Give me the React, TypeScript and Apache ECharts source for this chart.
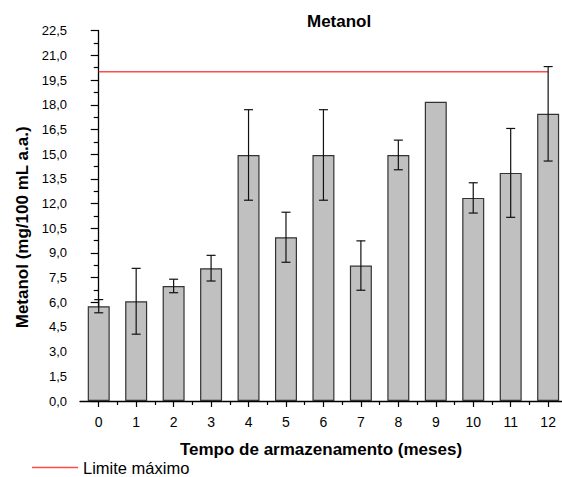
import React, { useEffect, useRef } from "react";
import * as echarts from "echarts";

const months = [0, 1, 2, 3, 4, 5, 6, 7, 8, 9, 10, 11, 12];
const means = [5.76, 6.06, 6.99, 8.07, 14.95, 9.95, 14.95, 8.23, 14.95, 18.18, 12.34, 13.86, 17.45];
const errors = [0.4, 2.0, 0.41, 0.78, 2.75, 1.52, 2.75, 1.5, 0.9, 0, 0.92, 2.7, 2.87];
const limitValue = 20;
const minorXTicks = [0.5, 1.5, 2.5, 3.5, 4.5, 5.5, 6.5, 7.5, 8.5, 9.5, 10.5, 11.5];

const FONT = "'Liberation Sans', Arial, sans-serif";

export default function App() {
  const ref = useRef<HTMLDivElement>(null);
  useEffect(() => {
    if (!ref.current) return;
    const chart = echarts.init(ref.current, null, { renderer: "svg" });
    const axisMin = -0.5;
    const axisMax = 12.37;
    chart.setOption({
      animation: false,
      backgroundColor: "#fff",
      textStyle: { fontFamily: FONT },
      title: {
        text: "Metanol",
        left: 307,
        top: 13,
        padding: 0,
        textStyle: { fontFamily: FONT, fontSize: 17, fontWeight: "bold", color: "#000" },
      },
      legend: {
        data: ["Limite máximo"],
        left: 32,
        top: 459,
        padding: 0,
        icon: "rect",
        itemWidth: 46,
        itemHeight: 1.5,
        itemGap: 5,
        textStyle: { fontFamily: FONT, fontSize: 16.5, lineHeight: 16, color: "#000" },
      },
      grid: { left: 80, right: 0, top: 30.7, bottom: 76 },
      xAxis: [
        {
          type: "value",
          min: axisMin,
          max: axisMax,
          name: "Tempo de armazenamento (meses)",
          nameLocation: "middle",
          nameGap: 40,
          nameTextStyle: { fontFamily: FONT, fontSize: 17, fontWeight: "bold", color: "#000" },
          axisLine: { show: true, onZero: false, lineStyle: { color: "#000", width: 1.3 } },
          axisTick: { show: true, customValues: months, length: 6, inside: false, lineStyle: { color: "#000", width: 1.2 } },
          axisLabel: { show: true, customValues: months, fontFamily: FONT, fontSize: 14, color: "#000", margin: 14 },
          splitLine: { show: false },
        },
        {
          type: "value",
          min: axisMin,
          max: axisMax,
          position: "bottom",
          axisLine: { show: false },
          axisTick: { show: true, customValues: minorXTicks, length: 4, lineStyle: { color: "#000", width: 1.2 } },
          axisLabel: { show: false },
          splitLine: { show: false },
        },
      ],
      yAxis: {
        type: "value",
        min: 0,
        max: 22.5,
        interval: 1.5,
        name: "Metanol (mg/100 mL a.a.)",
        nameLocation: "middle",
        nameGap: 47,
        nameTextStyle: { fontFamily: FONT, fontSize: 17, fontWeight: "bold", color: "#000", padding: [0, 23, 0, 0] },
        axisLine: { show: true, lineStyle: { color: "#000", width: 1.3 } },
        axisTick: { show: true, length: 8, lineStyle: { color: "#000", width: 1.2 } },
        minorTick: { show: true, splitNumber: 2, length: 5, lineStyle: { color: "#000", width: 1.2 } },
        axisLabel: {
          fontFamily: FONT,
          fontSize: 13,
          color: "#000",
          margin: 13,
          formatter: (v: number) => v.toFixed(1).replace(".", ","),
        },
        splitLine: { show: false },
      },
      series: [
        {
          type: "bar",
          name: "Metanol",
          data: months.map((m, i) => [m, means[i]]),
          barWidth: 22,
          itemStyle: { color: "#c0c0c0", borderColor: "#333", borderWidth: 1.2 },
          z: 2,
        },
        {
          type: "custom",
          name: "erro",
          data: months.map((m, i) => [m, means[i], errors[i]]),
          encode: { x: 0, y: 1 },
          z: 5,
          renderItem: (params: any, api: any) => {
            const x = api.value(0);
            const y = api.value(1);
            const e = api.value(2);
            if (!e) return { type: "group", children: [] };
            const top = api.coord([x, y + e]);
            const bot = api.coord([x, y - e]);
            const h = 4.5;
            const st = { stroke: "#111", lineWidth: 1.2 };
            return {
              type: "group",
              children: [
                { type: "line", shape: { x1: top[0], y1: top[1], x2: bot[0], y2: bot[1] }, style: st },
                { type: "line", shape: { x1: top[0] - h, y1: top[1], x2: top[0] + h, y2: top[1] }, style: st },
                { type: "line", shape: { x1: bot[0] - h, y1: bot[1], x2: bot[0] + h, y2: bot[1] }, style: st },
              ],
            };
          },
        },
        {
          type: "line",
          name: "Limite máximo",
          data: [
            [months[0], limitValue],
            [months[months.length - 1], limitValue],
          ],
          symbol: "none",
          lineStyle: { color: "#ff4d4d", width: 1.5 },
          itemStyle: { color: "#ff4d4d" },
          z: 4,
        },
      ],
    });
    return () => chart.dispose();
  }, []);
  return <div ref={ref} style={{ position: "fixed", left: 0, top: 0, width: 562, height: 477 }} />;
}
